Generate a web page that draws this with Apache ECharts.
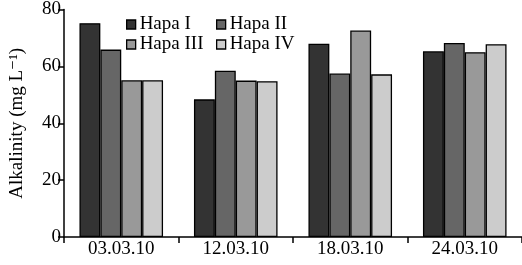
<!DOCTYPE html>
<html>
<head>
<meta charset="utf-8">
<script src="https://cdn.jsdelivr.net/npm/echarts@6/dist/echarts.min.js"></script>
<style>
  html, body { margin: 0; padding: 0; background: #fff; }
  #graphics { width: 522px; height: 265px; }
</style>
</head>
<body>
<div id="graphics"></div>
<script>
// data
var dates = ['03.03.10', '12.03.10', '18.03.10', '24.03.10'];
var hapa1 = [75.2, 48.4, 68.0, 65.3];
var hapa2 = [65.9, 58.5, 57.5, 68.2];
var hapa3 = [55.1, 55.0, 72.6, 65.0];
var hapa4 = [55.1, 54.8, 57.2, 67.8];
var yTicks = [0, 20, 40, 60, 80];

var font = '"Liberation Serif", "DejaVu Serif", serif';
var fills = ['#333333', '#666666', '#999999', '#cccccc'];

var myChart = echarts.init(document.getElementById('graphics'));

function bar(name, values, color) {
    return {
        name: name,
        type: 'bar',
        data: values,
        barGap: '0%',
        barCategoryGap: '27%',
        itemStyle: { color: color, borderColor: '#000', borderWidth: 1.3 },
        emphasis: { disabled: true }
    };
}

var legendText = { fontFamily: font, fontSize: 19, color: '#000', padding: [0, 0, 0, -1] };

var option = {
    animation: false,
    grid: { left: 63, right: -1, top: 9, bottom: 28 },
    legend: [
        {
            data: ['Hapa I', 'Hapa III'],
            orient: 'vertical',
            left: 121, top: 10,
            itemWidth: 9, itemHeight: 9, itemGap: 1,
            icon: 'rect',
            textStyle: legendText,
            itemStyle: { borderColor: '#000', borderWidth: 1.3 }
        },
        {
            data: ['Hapa II', 'Hapa IV'],
            orient: 'vertical',
            left: 211, top: 10,
            itemWidth: 9, itemHeight: 9, itemGap: 1,
            icon: 'rect',
            textStyle: legendText,
            itemStyle: { borderColor: '#000', borderWidth: 1.3 }
        }
    ],
    xAxis: {
        type: 'category',
        data: dates,
        axisLine: { lineStyle: { color: '#000', width: 1.5 } },
        axisTick: { show: true, inside: false, length: 6, lineStyle: { color: '#000', width: 1.5 } },
        axisLabel: { fontFamily: font, fontSize: 19, color: '#000', margin: 3 }
    },
    yAxis: {
        type: 'value',
        min: yTicks[0],
        max: yTicks[yTicks.length - 1],
        interval: 20,
        name: 'Alkalinity (mg L\u207B\u00B9)',
        nameLocation: 'middle',
        nameGap: 37,
        nameTextStyle: { fontFamily: font, fontSize: 19, color: '#000' },
        splitLine: { show: false },
        axisLine: { show: true, lineStyle: { color: '#000', width: 1.5 } },
        axisTick: { show: true, length: 6, lineStyle: { color: '#000', width: 1.5 } },
        axisLabel: { fontFamily: font, fontSize: 19, color: '#000', margin: 3 }
    },
    series: [
        bar('Hapa I', hapa1, fills[0]),
        bar('Hapa II', hapa2, fills[1]),
        bar('Hapa III', hapa3, fills[2]),
        bar('Hapa IV', hapa4, fills[3])
    ]
};

myChart.setOption(option);
</script>
</body>
</html>
